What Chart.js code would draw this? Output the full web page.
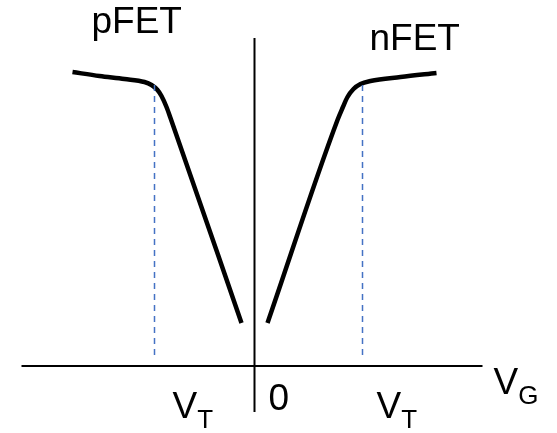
<!DOCTYPE html>
<html>
<head>
<meta charset="utf-8">
<script src="https://cdn.jsdelivr.net/npm/chart.js@4"></script>
<style>
html,body{margin:0;padding:0;background:#fff;}
#wrap{width:557px;height:433px;position:relative;}
</style>
</head>
<body>
<div id="wrap"><canvas id="c"></canvas></div>
<script>
// Gate voltage (arbitrary units, 0 at the vertical axis) and current (arbitrary, 0 at horizontal axis)
const pfetX = [-1.82, -1.55, -1.30, -1.10, -1.03, -0.97, -0.93, -0.88, -0.84, -0.13];
const pfetY = [2.94, 2.90, 2.87, 2.84, 2.81, 2.76, 2.70, 2.59, 2.48, 0.43];
const nfetX = [0.13, 0.83, 0.88, 0.93, 0.99, 1.06, 1.16, 1.46, 1.82];
const nfetY = [0.43, 2.46, 2.58, 2.69, 2.77, 2.82, 2.85, 2.89, 2.93];
const vtP = -1.00, vtN = 1.08;
const vtTop = 2.81, vtBottom = 0.08;
const xAxisRange = [-2.33, 2.28];
const yAxisRange = [-0.46, 3.28];

const pts = (xs, ys) => xs.map((x, i) => ({x, y: ys[i]}));

// Text labels: [main, subscript, x, y]
const labels = [
  ['pFET', '', -1.63, 3.33],
  ['nFET', '', 1.15, 3.16],
  ['V', 'T', -0.82, -0.52],
  ['0', '', 0.14, -0.44],
  ['V', 'T', 1.22, -0.52],
  ['V', 'G', 2.39, -0.28]
];

const textPlugin = {
  id: 'textLabels',
  afterDatasetsDraw(chart) {
    const {ctx, scales} = chart;
    ctx.save();
    ctx.fillStyle = '#000';
    ctx.textBaseline = 'alphabetic';
    ctx.textAlign = 'left';
    labels.forEach(([main, sub, x, y]) => {
      const px = scales.x.getPixelForValue(x);
      const py = scales.y.getPixelForValue(y);
      ctx.font = '37px "Liberation Sans", Arial, sans-serif';
      ctx.fillText(main, px, py);
      if (sub) {
        const w = ctx.measureText(main).width;
        ctx.font = '26px "Liberation Sans", Arial, sans-serif';
        ctx.fillText(sub, px + w, py + 10);
      }
    });
    ctx.restore();
  }
};

new Chart(document.getElementById('c'), {
  type: 'scatter',
  data: {
    datasets: [
      {data: pts(xAxisRange, [0, 0]), showLine: true, borderColor: '#000', borderWidth: 2, pointRadius: 0},
      {data: pts([0, 0], yAxisRange), showLine: true, borderColor: '#000', borderWidth: 2, pointRadius: 0},
      {data: pts([vtP, vtP], [vtTop, vtBottom]), showLine: true, borderColor: '#4472C4', borderWidth: 1.5, borderDash: [6, 5], pointRadius: 0},
      {data: pts([vtN, vtN], [vtTop, vtBottom]), showLine: true, borderColor: '#4472C4', borderWidth: 1.5, borderDash: [6, 5], pointRadius: 0},
      {data: pts(pfetX, pfetY), showLine: true, borderColor: '#000', borderWidth: 4.5, pointRadius: 0, cubicInterpolationMode: 'monotone', borderCapStyle: 'butt'},
      {data: pts(nfetX, nfetY), showLine: true, borderColor: '#000', borderWidth: 4.5, pointRadius: 0, cubicInterpolationMode: 'monotone', borderCapStyle: 'butt'}
    ]
  },
  options: {
    responsive: true,
    maintainAspectRatio: false,
    animation: false,
    layout: {padding: 0},
    plugins: {legend: {display: false}, tooltip: {enabled: false}},
    scales: {
      x: {type: 'linear', display: false, min: -2.545, max: 3.025},
      y: {type: 'linear', display: false, min: -0.67, max: 3.66}
    }
  },
  plugins: [textPlugin]
});
</script>
</body>
</html>
